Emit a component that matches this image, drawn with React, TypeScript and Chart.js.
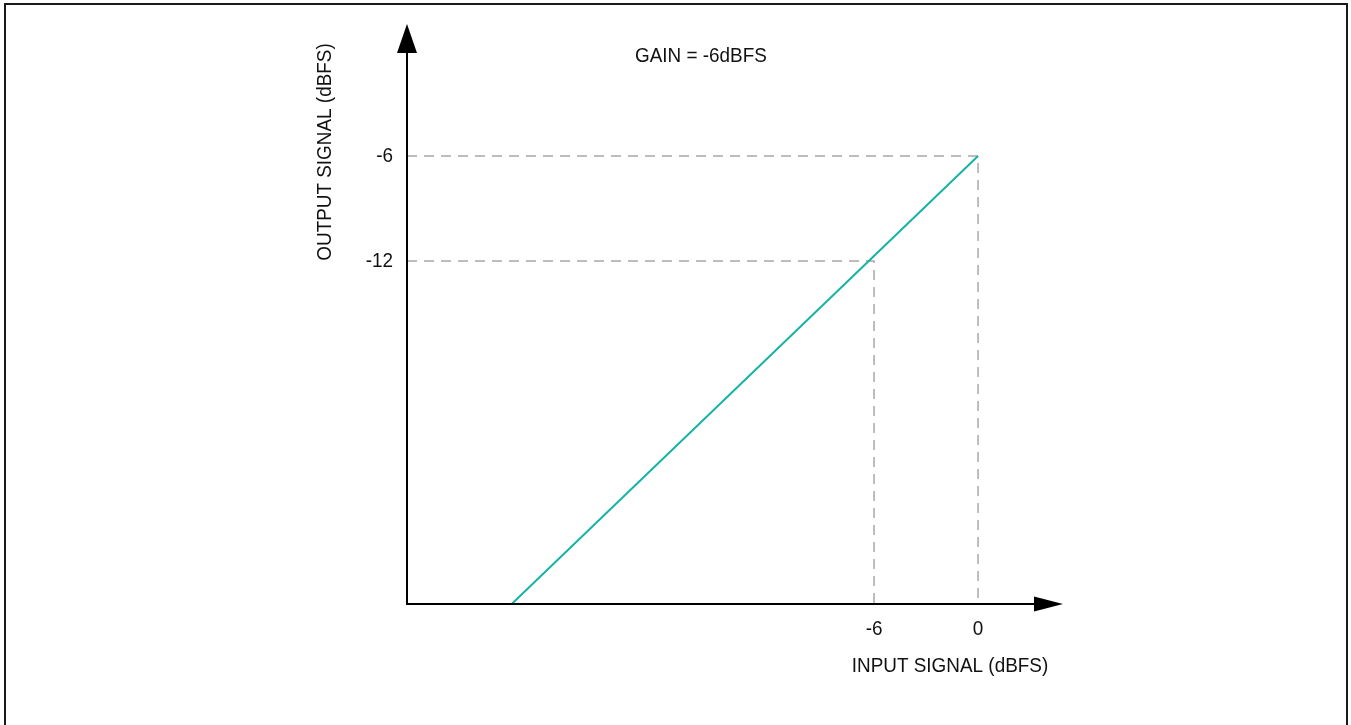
import React, { useEffect, useRef } from "react";
import { Chart, registerables } from "chart.js";

Chart.register(...registerables);

// ---- data ----
const inputSignal = [-26.9, 0];
const outputSignal = [-31.6, -6];
const xTickValues = [-6, 0];
const xTickLabels = ["-6", "0"];
const yTickValues = [-6, -12];
const yTickLabels = ["-6", "-12"];
const guideInputs = [0, -6];
const guideOutputs = [-6, -12];
const xRange = [-32.94, 4.9];
const yRange = [-31.6, 1.54];
const xTitle = "INPUT SIGNAL (dBFS)";
const yTitle = "OUTPUT SIGNAL (dBFS)";
const annotationText = "GAIN = -6dBFS";

const FONT = '"Liberation Sans", Arial, Helvetica, sans-serif';
const W = 1351;
const H = 725;
const NARROW = 0.9;

function drawText(
  ctx: CanvasRenderingContext2D,
  text: string,
  x: number,
  y: number,
  align: CanvasTextAlign,
  rotate = 0
) {
  ctx.save();
  ctx.translate(x, y);
  if (rotate) ctx.rotate(rotate);
  ctx.scale(NARROW, 1);
  ctx.textAlign = align;
  ctx.textBaseline = "middle";
  ctx.fillText(text, 0, 0);
  ctx.restore();
}

const overlayPlugin = {
  id: "overlay",
  afterDraw(chart: any) {
    const ctx = chart.ctx as CanvasRenderingContext2D;
    const area = chart.chartArea;
    const xs = chart.scales.x;
    const ys = chart.scales.y;
    ctx.save();

    // outer frame (open at the bottom)
    ctx.strokeStyle = "#1a1a1a";
    ctx.lineWidth = 2;
    ctx.beginPath();
    ctx.moveTo(5, H);
    ctx.lineTo(5, 4);
    ctx.lineTo(1347, 4);
    ctx.lineTo(1347, H);
    ctx.stroke();

    // axes
    ctx.strokeStyle = "#000";
    ctx.lineWidth = 2;
    ctx.beginPath();
    ctx.moveTo(area.left, area.top + 20);
    ctx.lineTo(area.left, area.bottom);
    ctx.lineTo(area.right - 20, area.bottom);
    ctx.stroke();

    // arrow heads
    ctx.fillStyle = "#000";
    ctx.beginPath();
    ctx.moveTo(area.left, area.top);
    ctx.lineTo(area.left - 10, area.top + 29);
    ctx.lineTo(area.left + 10, area.top + 29);
    ctx.closePath();
    ctx.fill();
    ctx.beginPath();
    ctx.moveTo(area.right, area.bottom);
    ctx.lineTo(area.right - 29, area.bottom - 7.5);
    ctx.lineTo(area.right - 29, area.bottom + 7.5);
    ctx.closePath();
    ctx.fill();

    // tick labels
    ctx.fillStyle = "#111";
    ctx.font = `21px ${FONT}`;
    xTickValues.forEach((v, i) => {
      drawText(ctx, xTickLabels[i], xs.getPixelForValue(v), area.bottom + 25, "center");
    });
    yTickValues.forEach((v, i) => {
      drawText(ctx, yTickLabels[i], area.left - 14, ys.getPixelForValue(v), "right");
    });

    // axis titles
    drawText(ctx, xTitle, 950, area.bottom + 62, "center");
    drawText(ctx, yTitle, 325, 152, "center", -Math.PI / 2);

    // annotation
    drawText(ctx, annotationText, 635, 56, "left");

    ctx.restore();
  },
};

export default function App() {
  const ref = useRef<HTMLCanvasElement | null>(null);

  useEffect(() => {
    if (!ref.current) return;
    const guideSets = guideInputs.map((gx, i) => ({
      label: `guide${i}`,
      data: [
        { x: xRange[0], y: guideOutputs[i] },
        { x: gx, y: guideOutputs[i] },
        { x: gx, y: yRange[0] },
      ],
      showLine: true,
      borderColor: "#a8a8a8",
      borderWidth: 1.5,
      borderDash: [10, 7],
      pointRadius: 0,
      fill: false,
    }));
    const chart = new Chart(ref.current, {
      type: "scatter",
      data: {
        datasets: [
          {
            label: "transfer",
            data: inputSignal.map((x, i) => ({ x, y: outputSignal[i] })),
            showLine: true,
            borderColor: "#14b3a6",
            borderWidth: 2,
            pointRadius: 0,
            fill: false,
          },
          ...guideSets,
        ],
      },
      options: {
        responsive: false,
        animation: false,
        devicePixelRatio: 1,
        layout: {
          padding: { left: 407, right: W - 1063, top: 24, bottom: H - 604 },
        },
        plugins: {
          legend: { display: false },
          tooltip: { enabled: false },
          title: { display: false },
        },
        scales: {
          x: { type: "linear", display: false, min: xRange[0], max: xRange[1] },
          y: { type: "linear", display: false, min: yRange[0], max: yRange[1] },
        },
      },
      plugins: [overlayPlugin],
    });
    return () => chart.destroy();
  }, []);

  return (
    <div style={{ position: "absolute", left: 0, top: 0, width: W, height: H, background: "#fff" }}>
      <canvas ref={ref} width={W} height={H} style={{ display: "block", width: W, height: H }} />
    </div>
  );
}
